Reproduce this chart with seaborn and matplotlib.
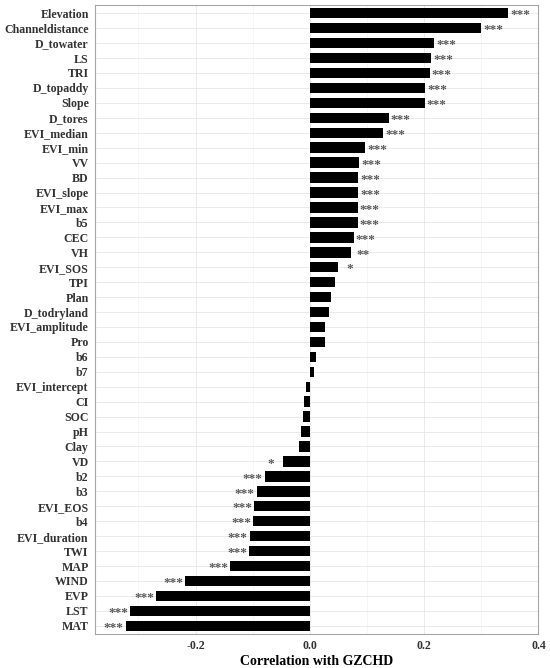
import pandas as pd
import numpy as np
import matplotlib
matplotlib.use("Agg")
import matplotlib.pyplot as plt
import seaborn as sns
from matplotlib.ticker import MultipleLocator

# factors, top to bottom
factors = ["Elevation", "Channeldistance", "D_towater", "LS", "TRI", "D_topaddy",
           "Slope", "D_tores", "EVI_median", "EVI_min", "VV", "BD", "EVI_slope",
           "EVI_max", "b5", "CEC", "VH", "EVI_SOS", "TPI", "Plan", "D_todryland",
           "EVI_amplitude", "Pro", "b6", "b7", "EVI_intercept", "CI", "SOC", "pH",
           "Clay", "VD", "b2", "b3", "EVI_EOS", "b4", "EVI_duration", "TWI", "MAP",
           "WIND", "EVP", "LST", "MAT"]
corr = [0.347, 0.300, 0.218, 0.212, 0.210, 0.202,
        0.201, 0.138, 0.128, 0.097, 0.086, 0.085, 0.085,
        0.084, 0.084, 0.077, 0.072, 0.049, 0.0435, 0.0374, 0.0331,
        0.0269, 0.0257, 0.0116, 0.0073, -0.0068, -0.0098, -0.0123, -0.0153,
        -0.019, -0.0466, -0.079, -0.0932, -0.0975, -0.0994, -0.105, -0.106, -0.139,
        -0.218, -0.269, -0.314, -0.322]
sig = ["***", "***", "***", "***", "***", "***",
       "***", "***", "***", "***", "***", "***", "***",
       "***", "***", "***", "**", "*", "", "", "",
       "", "", "", "", "", "", "", "",
       "", "*", "***", "***", "***", "***", "***", "***", "***",
       "***", "***", "***", "***"]

df = pd.DataFrame({"factor": factors, "r": corr, "sig": sig})

sns.set_style("whitegrid")
plt.rcParams["font.family"] = ["Liberation Serif", "DejaVu Serif"]
plt.rcParams["font.weight"] = "bold"

fig = plt.figure(figsize=(5.5, 6.68), dpi=100)
ax = fig.add_axes([0.1727, 0.0509, 0.8063, 0.9416])

sns.barplot(data=df, x="r", y="factor", order=factors, color="black",
            width=0.7, orient="h", saturation=1, linewidth=0, ax=ax)

for i, row in df.iterrows():
    if row["sig"]:
        off = 0.021 if row["r"] > 0 else -0.021
        ax.text(row["r"] + off, i + 0.15, row["sig"], ha="center", va="center",
                fontsize=9.5, color="#595959", fontweight="bold")

ax.set_xlim(-0.376, 0.40)
ax.set_ylim(41.55, -0.55)
ax.xaxis.set_minor_locator(MultipleLocator(0.1))
ax.set_xticks([-0.2, 0.0, 0.2, 0.4])
ax.set_xticklabels(["-0.2", "0.0", "0.2", "0.4"])

ax.grid(which="major", axis="both", color="#E6E6E6", linewidth=0.6)
ax.grid(which="minor", axis="x", color="#F0F0F0", linewidth=0.4)
ax.set_axisbelow(True)

for s in ax.spines.values():
    s.set_color("#A6A6A6")
    s.set_linewidth(0.8)

ax.tick_params(axis="both", which="major", length=3, width=0.6, color="#555555",
               labelsize=8.6, labelcolor="#333333", pad=1.5)
ax.tick_params(axis="x", which="minor", length=0)
for lab in ax.get_yticklabels() + ax.get_xticklabels():
    lab.set_fontweight("bold")

ax.set_ylabel("")
ax.set_xlabel("Correlation with GZCHD", fontsize=10, fontweight="bold",
              color="black", labelpad=2)

fig.savefig("out.png", dpi=100)
